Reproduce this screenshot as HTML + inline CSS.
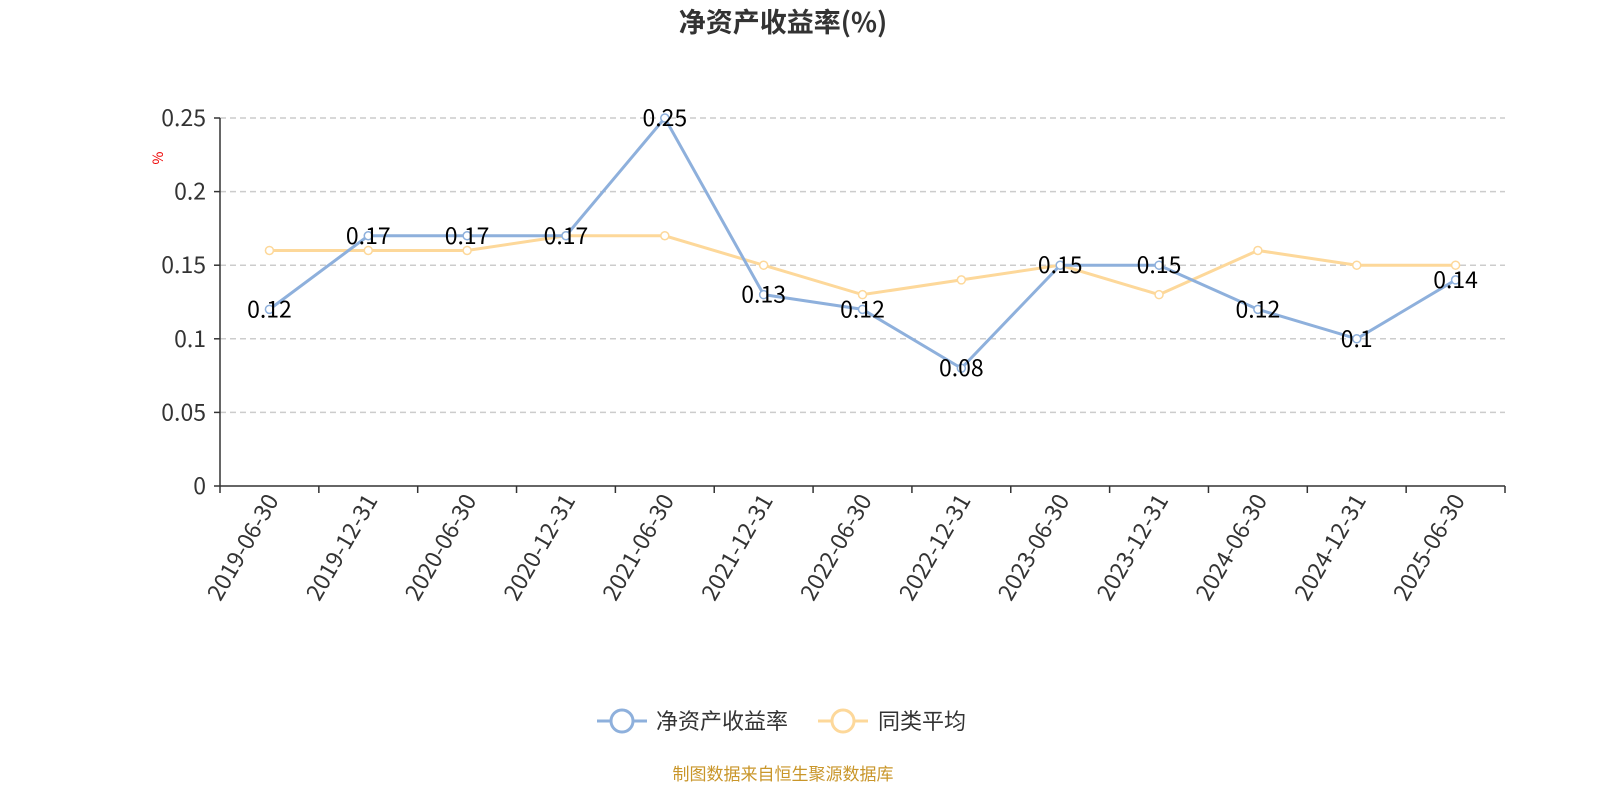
<!DOCTYPE html>
<html><head><meta charset="utf-8">
<style>
body{margin:0;background:#fff;width:1600px;height:800px;overflow:hidden;font-family:"Noto Sans CJK SC","Liberation Sans",sans-serif;}
svg text{font-family:"Noto Sans CJK SC","Liberation Sans",sans-serif;}
</style></head>
<body>
<svg id="chart" width="1600" height="800">
<text x="783" y="32" text-anchor="middle" font-size="27" font-weight="bold" fill="#333">净资产收益率(%)</text>
<text x="0" y="0" transform="translate(163,158) rotate(-90)" text-anchor="middle" font-size="14" fill="#e00">%</text>
<g id="grid"></g><g id="axes"></g><g id="series"></g>
<g>
<g>
<line x1="597" y1="721" x2="647" y2="721" stroke="#8eb0dc" stroke-width="3"/>
<circle cx="622" cy="721" r="11" fill="#fff" stroke="#8eb0dc" stroke-width="3"/>
<text x="656" y="729" font-size="22" fill="#333">净资产收益率</text></g>
<g>
<line x1="818" y1="721" x2="868" y2="721" stroke="#fdd89a" stroke-width="3"/>
<circle cx="843" cy="721" r="11" fill="#fff" stroke="#fdd89a" stroke-width="3"/>
<text x="878" y="729" font-size="22" fill="#333">同类平均</text></g>
</g>
<text x="783" y="780" text-anchor="middle" font-size="17" fill="#c9962a">制图数据来自恒生聚源数据库</text>
</svg>
<script>
const categories=["2019-06-30","2019-12-31","2020-06-30","2020-12-31","2021-06-30","2021-12-31","2022-06-30","2022-12-31","2023-06-30","2023-12-31","2024-06-30","2024-12-31","2025-06-30"];
const roeValues=[0.12,0.17,0.17,0.17,0.25,0.13,0.12,0.08,0.15,0.15,0.12,0.1,0.14];
const avgValues=[0.16,0.16,0.16,0.17,0.17,0.15,0.13,0.14,0.15,0.13,0.16,0.15,0.15];
const yTicks=[0,0.05,0.1,0.15,0.2,0.25];
const yTickLabels=["0","0.05","0.1","0.15","0.2","0.25"];
const NS="http://www.w3.org/2000/svg";
const X0=220,X1=1505,Y0=486,Y1=118,YMAX=0.25;
const bw=(X1-X0)/categories.length;
const xc=i=>X0+bw*(i+0.5);
const ys=v=>Y0-(v/YMAX)*(Y0-Y1);
function mk(tag,attrs,parent){const e=document.createElementNS(NS,tag);for(const k in attrs)e.setAttribute(k,attrs[k]);parent.appendChild(e);return e;}
const grid=document.getElementById('grid'),axes=document.getElementById('axes'),series=document.getElementById('series');
yTicks.forEach((t,i)=>{
  const y=ys(t);
  if(t>0){const g=mk('line',{x1:X0,x2:X1,y1:y,y2:y,stroke:'#ccc','stroke-dasharray':'6,4','stroke-width':1.5},grid);
  
  }
  const tk=mk('line',{x1:X0-6,x2:X0,y1:y,y2:y,stroke:'#333','stroke-width':1.5},axes);
  
  
  const tx=mk('text',{x:X0-14,y:y+8,'text-anchor':'end','font-size':23,fill:'#333'},axes);
  tx.textContent=yTickLabels[i];
  
  
});
const ya=mk('line',{x1:X0,x2:X0,y1:Y1,y2:Y0,stroke:'#333','stroke-width':1.5},axes);


const xa=mk('line',{x1:X0,x2:X1,y1:Y0,y2:Y0,stroke:'#333','stroke-width':1.5},axes);


for(let i=0;i<=categories.length;i++){
  const x=X0+bw*i;
  const tk=mk('line',{x1:x,x2:x,y1:Y0,y2:Y0+7,stroke:'#333','stroke-width':1.5},axes);
  
  
}
categories.forEach((c,i)=>{
  const x=xc(i);
  const t=mk('text',{x:0,y:0,transform:`translate(${x+10},${Y0+14}) rotate(-60)`,'text-anchor':'end','font-size':23,fill:'#333'},axes);
  t.textContent=c;
  
  
});
function drawSeries(vals,color,name){
  const pts=vals.map((v,i)=>xc(i)+','+ys(v)).join(' ');
  const pl=mk('polyline',{points:pts,fill:'none',stroke:color,'stroke-width':3},series);
  
  
  vals.forEach((v,i)=>{
    const c=mk('circle',{cx:xc(i),cy:ys(v),r:4,fill:'#fff',stroke:color,'stroke-width':1.5},series);
    
    
  });
}
drawSeries(avgValues,'#fdd89a','peer-average');
drawSeries(roeValues,'#8eb0dc','roe');
roeValues.forEach((v,i)=>{
  const t=mk('text',{x:xc(i),y:ys(v)+8,'text-anchor':'middle','font-size':23,fill:'#000'},series);
  t.textContent=String(v);
  
  
});
</script>
</body></html>
